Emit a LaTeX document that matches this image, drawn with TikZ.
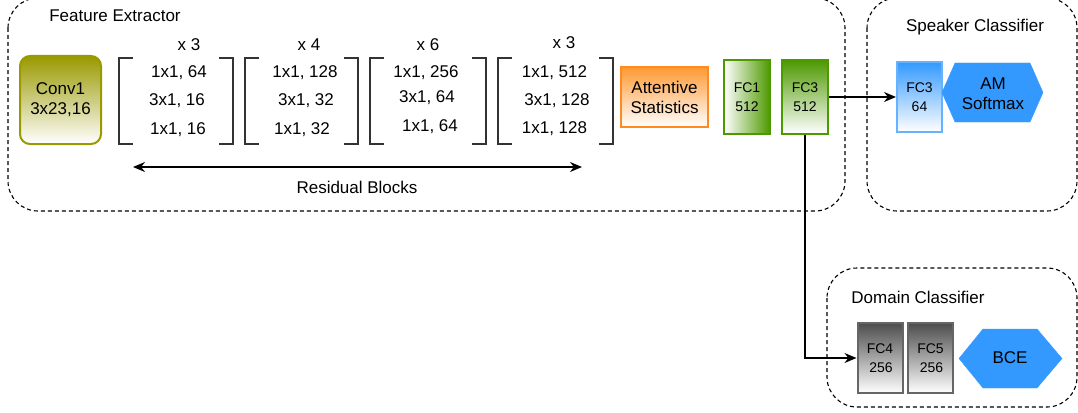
\documentclass[tikz,border=0pt]{standalone}
\usepackage{fontspec}
\setmainfont{Liberation Sans}
\usetikzlibrary{arrows.meta}
\definecolor{cOlive}{HTML}{999900}
\definecolor{cOrange}{HTML}{FF9933}
\definecolor{cOrangeD}{HTML}{FF8A1F}
\definecolor{cGreen}{HTML}{4D9900}
\definecolor{cBlue}{HTML}{3399FF}
\definecolor{cBlueL}{HTML}{66B2FF}
\definecolor{cGray}{HTML}{4D4D4D}
\definecolor{cGrayB}{HTML}{666666}
\definecolor{cBrk}{HTML}{333333}
\tikzset{
  big/.style={font=\fontsize{17}{20}\selectfont},
  small/.style={font=\fontsize{14}{19}\selectfont},
  group/.style={draw=black, dashed, dash pattern=on 4pt off 3pt, line width=1.1pt, rounded corners=30pt},
  lbl/.style={big, inner sep=0pt},
  row/.style={big, inner sep=0pt},
  conv/.style={draw=cOlive, line width=2pt, rounded corners=10pt, top color=cOlive, bottom color=white, big, align=center, minimum width=81pt, minimum height=88pt, inner sep=0pt},
  att/.style={draw=cOrangeD, line width=2pt, top color=cOrange, bottom color=white, big, align=center, minimum width=87pt, minimum height=60pt, inner sep=0pt},
  fcA/.style={draw=cGreen, line width=2pt, left color=white, right color=cGreen, small, align=center, minimum width=46pt, minimum height=74pt, inner sep=0pt},
  fcB/.style={draw=cGreen, line width=2pt, top color=cGreen, bottom color=white, small, align=center, minimum width=46pt, minimum height=74pt, inner sep=0pt},
  fcS/.style={draw=cBlueL, line width=2pt, top color=cBlue, bottom color=white, small, align=center, minimum width=45pt, minimum height=70pt, inner sep=0pt},
  fcD/.style={draw=cGrayB, line width=2pt, top color=cGray, bottom color=white, small, align=center, minimum width=45pt, minimum height=70pt, inner sep=0pt},
  hexa/.style={fill=cBlue, draw=cBlue},
  brk/.style={draw=cBrk, line width=1.4pt},
  conn/.style={draw=black, line width=1.3pt, -{Stealth[length=12pt,width=10pt]}},
}
\begin{document}
\begin{tikzpicture}[x=1pt,y=-1pt]
\useasboundingbox (0,0) rectangle (1078,412);

% group boxes
\draw[group] (8,-2) rectangle (845,211);
\draw[group] (867,-2) rectangle (1077,211);
\draw[group] (827,268) rectangle (1077,407);

\node[lbl] (tfe) at (115,16) {Feature Extractor};
\node[lbl] (tsc) at (975,27) {Speaker Classifier};
\node[lbl] (tdc) at (918,297) {Domain Classifier};

% Conv1
\node[conv] (conv) at (60.5,100) {Conv1\\3x23,16};

% brackets
\foreach \L/\R in {119/233, 245/358, 370/486, 498/613}{
  \draw[brk] (\L+14,58) -- (\L,58) -- (\L,144) -- (\L+14,144);
  \draw[brk] (\R-14,58) -- (\R,58) -- (\R,144) -- (\R-14,144);
}

\node[lbl] (m1) at (189,45) {x 3};
\node[lbl] (m2) at (309,45) {x 4};
\node[lbl] (m3) at (428,45) {x 6};
\node[lbl] (m4) at (564,43) {x 3};

\node[row] (a1) at (179,73) {1x1, 64};
\node[row] (a2) at (177,101) {3x1, 16};
\node[row] (a3) at (178,130) {1x1, 16};

\node[row] (b1) at (305,73) {1x1, 128};
\node[row] (b2) at (306,101) {3x1, 32};
\node[row] (b3) at (302,130) {1x1, 32};

\node[row] (c1) at (426,73) {1x1, 256};
\node[row] (c2) at (427,98) {3x1, 64};
\node[row] (c3) at (430,127) {1x1, 64};

\node[row] (d1) at (554.5,73) {1x1, 512};
\node[row] (d2) at (557,101) {3x1, 128};
\node[row] (d3) at (554.5,129) {1x1, 128};

% residual arrow
\coordinate (ra) at (133,167);
\coordinate (rb) at (582,167);
\draw[draw=black, line width=1.3pt, {Stealth[length=12pt,width=10pt]}-{Stealth[length=12pt,width=10pt]}] (ra) -- (rb);
\node[lbl] (trb) at (357,187) {Residual Blocks};

% attentive, FC
\node[att] (att) at (664.5,97) {Attentive\\Statistics};
\node[fcA] (fc1) at (747,97) {FC1\\512};
\node[fcB] (fc3) at (805,97) {FC3\\512};

% speaker classifier
\node[fcS] (sfc3) at (919.5,97) {FC3\\64};
\draw[hexa] (942,92.5) -- (955,63) -- (1030,63) -- (1043,92.5) -- (1030,122) -- (955,122) -- cycle;
\node[big, align=center, inner sep=0pt] (am) at (993,94) {AM\\Softmax};

% domain classifier
\node[fcD] (fc4) at (880,358) {FC4\\\hspace*{2pt}256};
\node[fcD] (fc5) at (930.5,358) {FC5\\\hspace*{2pt}256};
\draw[hexa] (959,358.5) -- (983,329) -- (1037,329) -- (1062,358.5) -- (1037,388) -- (983,388) -- cycle;
\node[big, inner sep=0pt] (bce) at (1010,358) {BCE};

% connectors
\draw[conn] (fc3.east) -- (sfc3.west);
\draw[conn] (fc3.south) |- (fc4.west);
\end{tikzpicture}
\end{document}
